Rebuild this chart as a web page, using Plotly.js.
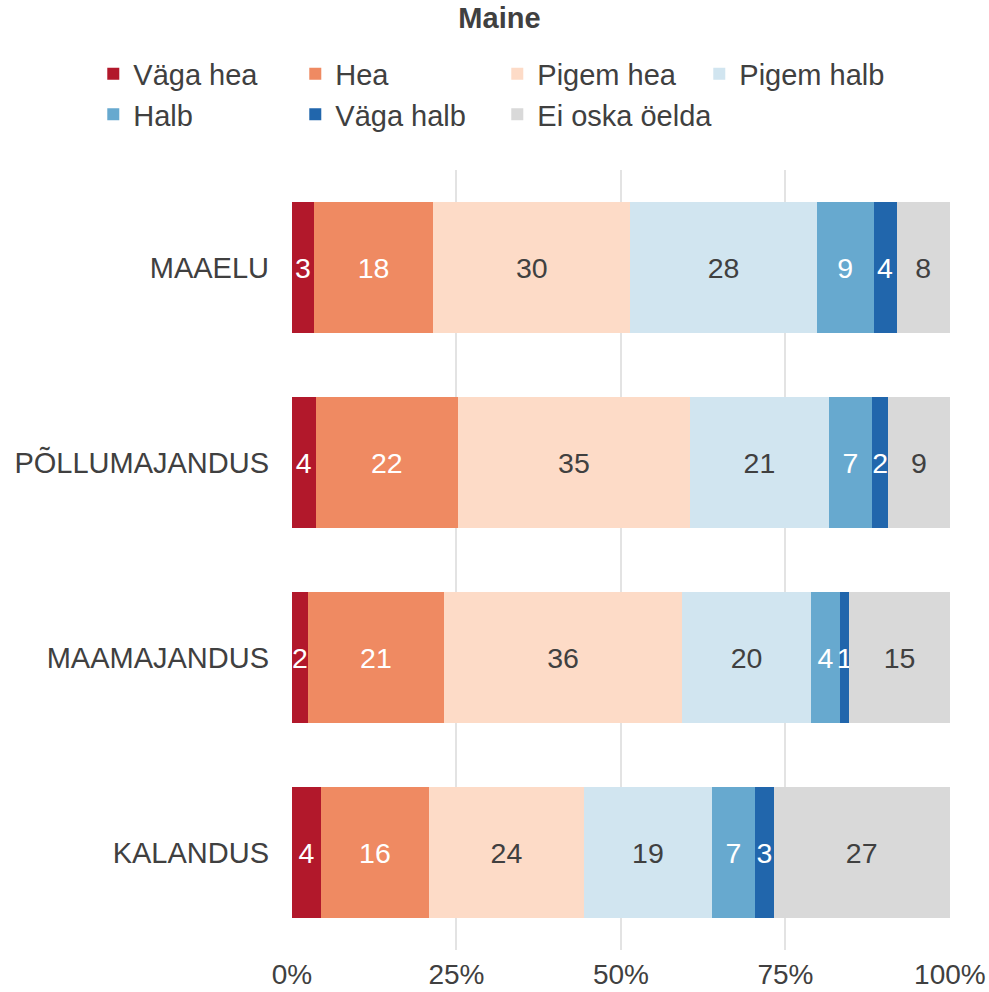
<!DOCTYPE html>
<html>
<head>
<meta charset="utf-8">
<script src="https://cdn.plot.ly/plotly-3.0.1.min.js"></script>
<style>html,body{margin:0;padding:0;background:#fff;}</style>
</head>
<body>
<div id="chart" style="width:989px;height:992px;"></div>
<script>
const categories = ['MAAELU', 'PÕLLUMAJANDUS', 'MAAMAJANDUS', 'KALANDUS'];
const seriesNames = ['Väga hea', 'Hea', 'Pigem hea', 'Pigem halb', 'Halb', 'Väga halb', 'Ei oska öelda'];
const vagaHea   = [3.3, 3.6, 2.4, 4.4];
const hea       = [18.2, 21.6, 20.7, 16.4];
const pigemHea  = [29.9, 35.3, 36.2, 23.6];
const pigemHalb = [28.4, 21.1, 19.6, 19.4];
const halb      = [8.6, 6.6, 4.4, 6.6];
const vagaHalb  = [3.5, 2.4, 1.4, 2.8];
const eiOska    = [8.1, 9.4, 15.3, 26.8];
const tickVals  = [0, 25, 50, 75, 100];

const seriesValues = [vagaHea, hea, pigemHea, pigemHalb, halb, vagaHalb, eiOska];
const colors = ['#b2182b', '#ef8a62', '#fddbc7', '#d1e5f0', '#67a9cf', '#2166ac', '#d9d9d9'];
const textColors = ['#ffffff', '#ffffff', '#404040', '#404040', '#ffffff', '#ffffff', '#404040'];
const FONT = '"Liberation Sans", Arial, Helvetica, sans-serif';

const traces = seriesNames.map((name, i) => ({
  type: 'bar',
  orientation: 'h',
  name: name,
  y: categories,
  x: seriesValues[i],
  marker: {color: colors[i], line: {width: 0}},
  texttemplate: '%{x:.0f}',
  textposition: 'inside',
  insidetextanchor: 'middle',
  textangle: 0,
  constraintext: 'none',
  cliponaxis: false,
  textfont: {family: FONT, size: 28.5, color: textColors[i]},
  hoverinfo: 'skip'
}));

const layout = {
  width: 989,
  height: 992,
  barmode: 'stack',
  bargap: 0.33,
  paper_bgcolor: '#ffffff',
  plot_bgcolor: '#ffffff',
  font: {family: FONT, size: 28, color: '#404040'},
  margin: {l: 292, r: 39, t: 170, b: 42, pad: 0},
  title: {
    text: '<b>Maine</b>',
    font: {family: FONT, size: 29, color: '#404040'},
    x: 0.505, xref: 'container', xanchor: 'center',
    y: 0.982, yref: 'container', yanchor: 'middle'
  },
  showlegend: true,
  legend: {
    orientation: 'h',
    traceorder: 'normal',
    x: -0.302, xanchor: 'left',
    y: 1.156, yanchor: 'top',
    entrywidth: 157,
    entrywidthmode: 'pixels',
    bgcolor: 'rgba(0,0,0,0)',
    font: {family: FONT, size: 29, color: '#404040'},
    itemclick: false,
    itemdoubleclick: false
  },
  xaxis: {
    range: [0, 100.02],
    tickvals: tickVals,
    ticktext: tickVals.map(v => v + '%'),
    showgrid: true,
    gridcolor: '#e3e3e3',
    gridwidth: 2,
    zeroline: false,
    showline: false,
    ticks: '',
    ticklabelstandoff: 5,
    tickfont: {family: FONT, size: 28, color: '#404040'},
    fixedrange: true
  },
  yaxis: {
    type: 'category',
    categoryorder: 'array',
    categoryarray: categories,
    autorange: 'reversed',
    showgrid: false,
    zeroline: false,
    showline: false,
    ticks: '',
    ticklabelstandoff: 22,
    tickfont: {family: FONT, size: 29, color: '#404040'},
    fixedrange: true
  }
};

Plotly.newPlot('chart', traces, layout, {displayModeBar: false, staticPlot: true});
</script>
</body>
</html>
